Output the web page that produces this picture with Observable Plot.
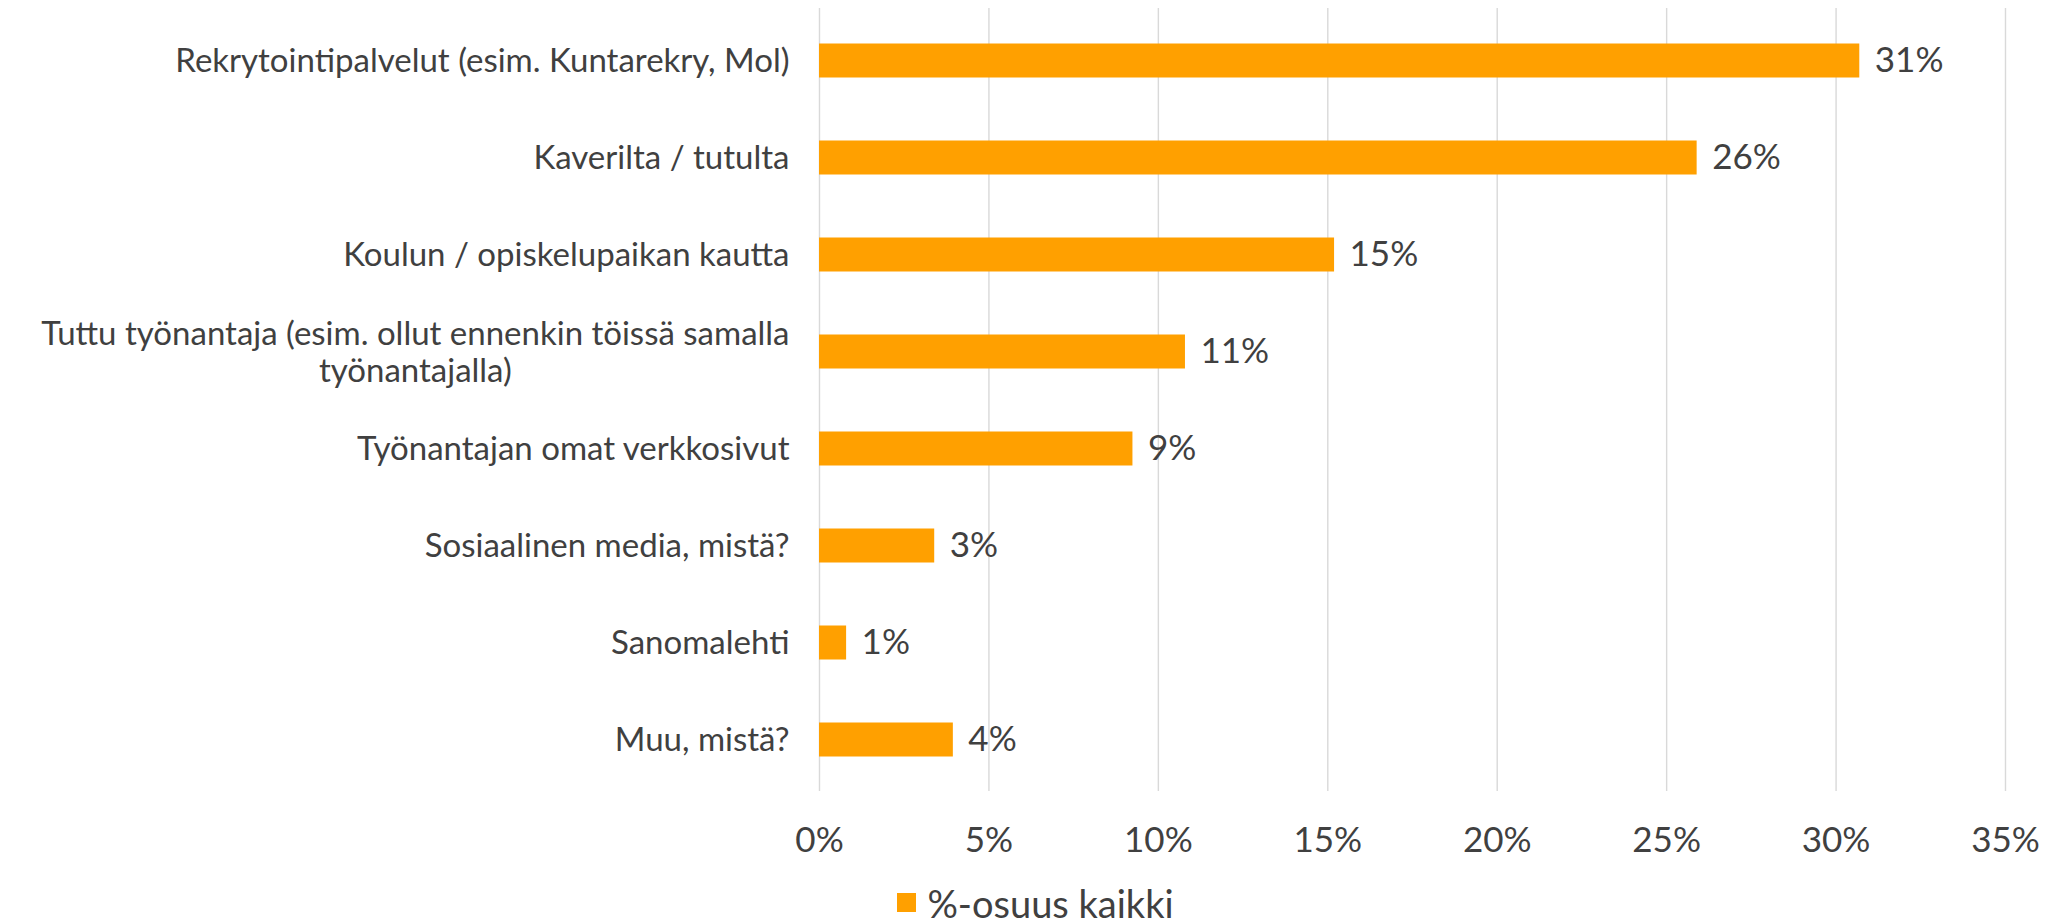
<!DOCTYPE html>
<html>
<head>
<meta charset="utf-8">
<script src="https://cdn.jsdelivr.net/npm/d3@7"></script>
<script src="https://cdn.jsdelivr.net/npm/@observablehq/plot@0.6"></script>
<style>
  html, body { margin: 0; padding: 0; background: #fff; overflow: hidden; }
  #chart svg { display: block; }
  #legend { height: 41px; padding-top: 2px; display: flex; justify-content: center; align-items: center;
    font-family: Lato, sans-serif; font-size: 38px; line-height: 38px; color: #404040; padding-left: 6px; }
  #legend .sw { width: 19px; height: 19px; background: #ffa000; margin-right: 11px; }
</style>
</head>
<body>
<div id="chart"></div>
<div id="legend"><span class="sw"></span><span>%-osuus kaikki</span></div>
<script>
const categories = [
  "Rekrytointipalvelut (esim. Kuntarekry, Mol)",
  "Kaverilta / tutulta",
  "Koulun / opiskelupaikan kautta",
  "Tuttu työnantaja (esim. ollut ennenkin töissä samalla työnantajalla)",
  "Työnantajan omat verkkosivut",
  "Sosiaalinen media, mistä?",
  "Sanomalehti",
  "Muu, mistä?"
];
const values = [0.307, 0.259, 0.152, 0.108, 0.0925, 0.034, 0.008, 0.0395];
const xTicks = [0, 0.05, 0.10, 0.15, 0.20, 0.25, 0.30, 0.35];
const seriesName = "%-osuus kaikki";

const wrapped = {
  "Tuttu työnantaja (esim. ollut ennenkin töissä samalla työnantajalla)":
    ["Tuttu työnantaja (esim. ollut ennenkin töissä samalla", "työnantajalla)"]
};

const data = categories.map((c, i) => ({category: c, value: values[i]}));
const FONT = "Lato, sans-serif";
const FS = 33;
const textColor = "#404040";

const ctx = document.createElement("canvas").getContext("2d");
ctx.font = `${FS}px Lato`;
const wrappedRows = Object.entries(wrapped).map(([k, lines]) => ({
  category: k,
  text: lines.join("\n"),
  w: Math.max(...lines.map(l => ctx.measureText(l).width))
}));

const labelPad = 30;
const single = categories.filter(c => !wrapped[c]);

const chart = Plot.plot({
  width: 2065,
  height: 880,
  marginLeft: 819,
  marginRight: 60,
  marginTop: 8,
  marginBottom: 89,
  style: {fontFamily: FONT, color: textColor, background: "#fff"},
  x: {domain: [0, 0.35], ticks: xTicks, tickFormat: d3.format(".0%"), label: null},
  y: {domain: categories, padding: 0, axis: null, label: null},
  marks: [
    Plot.gridX(xTicks, {stroke: "#d9d9d9", strokeOpacity: 1, strokeWidth: 1.4}),
    Plot.barX(data, {x: "value", y: "category", fill: "#ffa000", insetTop: 31.5, insetBottom: 31.5}),
    Plot.text(data, {x: "value", y: "category", text: d => d3.format(".0%")(d.value),
      textAnchor: "start", dx: 15, fontSize: 35, fill: textColor}),
    Plot.axisX({ticks: xTicks, tickSize: 0, tickPadding: 36, fontSize: 35, color: textColor,
      tickFormat: d3.format(".0%"), label: null}),
    Plot.text(single, {y: d => d, text: d => d, frameAnchor: "left", textAnchor: "end", dx: -labelPad, fontSize: FS, fill: textColor}),
    ...wrappedRows.map(r => Plot.text([r], {y: "category", text: "text", frameAnchor: "left", textAnchor: "middle",
      dx: -(labelPad + r.w / 2), fontSize: FS, lineHeight: 1.12, fill: textColor}))
  ]
});
document.getElementById("chart").appendChild(chart);
</script>
</body>
</html>
